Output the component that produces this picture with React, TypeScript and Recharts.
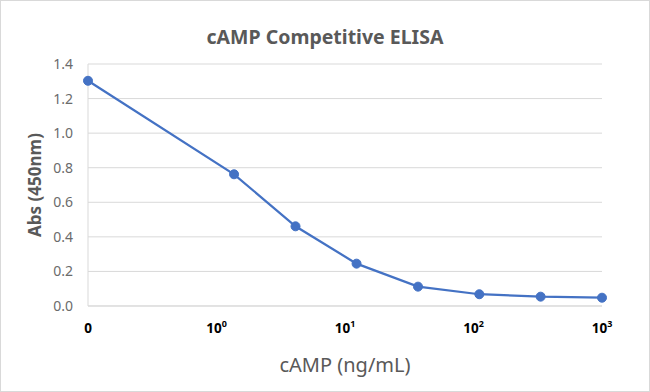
import React from 'react';
import { LineChart, Line, XAxis, YAxis, CartesianGrid, Label } from 'recharts';

// cAMP concentrations (ng/mL); 0 = blank, drawn at the "0" position of the axis
const concentrations = [0, 1.37, 4.12, 12.3, 37, 111, 333, 1000];
const absorbance = [1.303, 0.762, 0.461, 0.245, 0.112, 0.068, 0.054, 0.048];

const xTickValues = [-1, 0, 1, 2, 3];
const xTickBases = ['0', '10', '10', '10', '10'];
const xTickExps = ['', '0', '1', '2', '3'];
const yTicks = [0, 0.2, 0.4, 0.6, 0.8, 1.0, 1.2, 1.4];

const ZERO_POS = -1;
const data = concentrations.map((c, i) => ({
  x: c === 0 ? ZERO_POS : Math.log10(c),
  abs: absorbance[i],
}));

const FONT = '"Noto Sans", "Open Sans", sans-serif';
const GRAY = '#595959';
const GRID = '#d9d9d9';
const BLUE = '#4472C4';

const XTick = (props: any) => {
  const { x, y, payload } = props;
  const idx = xTickValues.indexOf(payload.value);
  const base = xTickBases[idx] ?? '';
  const exp = xTickExps[idx] ?? '';
  return (
    <text x={x} y={y + 19} textAnchor="middle" fontFamily={FONT} fontSize={13.5} fontWeight={700} fill="#000">
      <tspan>{base}</tspan>
      {exp ? (
        <tspan dy={-6} fontSize={9}>
          {exp}
        </tspan>
      ) : null}
    </text>
  );
};

export default function App() {
  return (
    <div style={{ position: 'absolute', left: 0, top: 0, width: 650, height: 392, background: '#fff' }}>
      <LineChart
        width={650}
        height={392}
        data={data}
        margin={{ top: 64, right: 48, left: 0, bottom: 0 }}
      >
        <CartesianGrid vertical={false} stroke={GRID} strokeWidth={1} />
        <XAxis
          dataKey="x"
          type="number"
          domain={[-1, 3]}
          ticks={xTickValues}
          interval={0}
          height={86}
          axisLine={{ stroke: GRID }}
          tickLine={false}
          tick={<XTick />}
        >
          <Label
            content={(p: any) => {
              const vb = p.viewBox;
              return (
                <text
                  x={vb.x + vb.width / 2}
                  y={372}
                  textAnchor="middle"
                  fontFamily={FONT}
                  fontSize={20}
                  fill={GRAY}
                >
                  cAMP (ng/mL)
                </text>
              );
            }}
          />
        </XAxis>
        <YAxis
          type="number"
          domain={[0, 1.4]}
          ticks={yTicks}
          width={88}
          axisLine={{ stroke: GRID }}
          tickLine={false}
          tickMargin={9}
          tickFormatter={(v: number) => v.toFixed(1)}
          tick={{ fill: '#6b6b6b', fontSize: 14, fontFamily: FONT }}
        >
          <Label
            content={(p: any) => {
              const vb = p.viewBox;
              const cx = 41;
              const cy = vb.y + vb.height / 2;
              return (
                <text
                  x={cx}
                  y={cy}
                  transform={`rotate(-90, ${cx}, ${cy})`}
                  textAnchor="middle"
                  fontFamily={FONT}
                  fontSize={17}
                  fontWeight={700}
                  fill={GRAY}
                >
                  Abs (450nm)
                </text>
              );
            }}
          />
        </YAxis>
        <Line
          type="linear"
          dataKey="abs"
          stroke={BLUE}
          strokeWidth={2.25}
          dot={{ r: 4.5, fill: BLUE, stroke: BLUE, strokeWidth: 1 }}
          activeDot={false}
          isAnimationActive={false}
        />
      </LineChart>
      <svg
        width={650}
        height={392}
        style={{ position: 'absolute', left: 0, top: 0, pointerEvents: 'none' }}
      >
        <text x={325} y={44} textAnchor="middle" fontFamily={FONT} fontSize={19.5} fontWeight={700} fill={GRAY}>
          cAMP Competitive ELISA
        </text>
        <rect x={0.5} y={0.5} width={649} height={391} fill="none" stroke={GRID} strokeWidth={1} />
      </svg>
    </div>
  );
}
